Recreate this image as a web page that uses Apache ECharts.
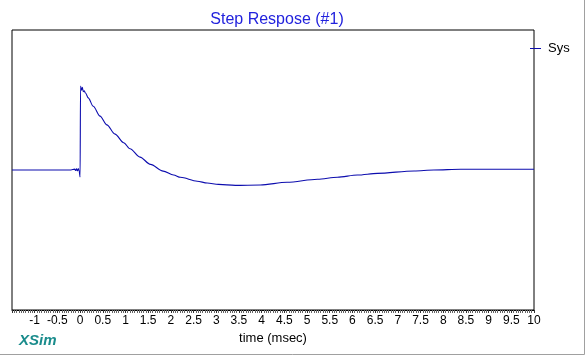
<!DOCTYPE html>
<html>
<head>
<meta charset="utf-8">
<script src="https://cdn.jsdelivr.net/npm/echarts@6/dist/echarts.min.js"></script>
<style>
html,body{margin:0;padding:0;background:#fff;}
#c{width:587px;height:357px;}
</style>
</head>
<body>
<div id="c"></div>
<script>
// time (msec) samples
const timeMs = [-1.5, -0.6, -0.2, -0.12, -0.1, -0.08, -0.06, -0.04, -0.02, 0.0, 0.01, 0.03, 0.05, 0.07, 0.09, 0.12, 0.18, 0.29, 0.44, 0.59, 0.77, 0.96, 1.1, 1.32, 1.55, 1.83, 2.06, 2.21, 2.58, 2.8, 3.05, 3.42, 3.97, 4.56, 5.23, 5.67, 6.11, 6.55, 7.36, 7.79, 8.39, 10.0];
// response value (Sys)
const sysValues = [0.0, 0.0, 0.0, 0.006, -0.004, 0.008, -0.006, 0.01, -0.01, -0.05, 0.6, 0.57, 0.59, 0.56, 0.565, 0.55, 0.515, 0.455, 0.385, 0.322, 0.256, 0.195, 0.152, 0.092, 0.040, -0.008, -0.036, -0.052, -0.080, -0.093, -0.103, -0.110, -0.107, -0.088, -0.066, -0.052, -0.036, -0.024, -0.007, 0.0, 0.005, 0.005];
const xTickLabels = ['-1.5','-1','-0.5','0','0.5','1','1.5','2','2.5','3','3.5','4','4.5','5','5.5','6','6.5','7','7.5','8','8.5','9','9.5','10'];
const seriesName = 'Sys';

const chart = echarts.init(document.getElementById('c'), null, {renderer: 'canvas'});
const pts = timeMs.map((t, i) => [t, sysValues[i]]);

chart.setOption({
  animation: false,
  backgroundColor: '#ffffff',
  title: {
    text: 'Step Respose (#1)',
    left: 272, top: 7, textAlign: 'center',
    textStyle: {color: '#2222dd', fontFamily: 'Liberation Sans, Arial', fontSize: 16, fontWeight: 'normal'}
  },
  legend: {
    data: [seriesName],
    left: 525, top: 37,
    icon: 'rect', itemWidth: 11, itemHeight: 1, itemGap: 4,
    textStyle: {color: '#000', fontFamily: 'Liberation Sans, Arial', fontSize: 13, padding: [0,0,0,2]}
  },
  grid: {left: 12, right: 53, top: 30, bottom: 47, show: true, borderColor: '#000', borderWidth: 1, backgroundColor: '#fff'},
  xAxis: {
    type: 'value', min: -1.5, max: 10, interval: 0.5,
    position: 'bottom',
    name: 'time (msec)', nameLocation: 'middle', nameGap: 19,
    nameTextStyle: {color: '#000', fontFamily: 'Liberation Sans, Arial', fontSize: 13},
    axisLine: {show: true, onZero: false, lineStyle: {color: '#000', width: 1}},
    axisTick: {show: true, inside: false, length: 3, lineStyle: {color: '#333'}},
    minorTick: {show: true, splitNumber: 10, length: 3, lineStyle: {color: '#666'}},
    splitLine: {show: false},
    axisLabel: {
      color: '#000', fontFamily: 'Liberation Sans, Arial', fontSize: 12, margin: 5,
      showMinLabel: false,
      formatter: v => { const i = Math.round((v + 1.5) / 0.5); return i === 0 ? '' : xTickLabels[i]; }
    }
  },
  yAxis: {
    type: 'value', min: -1, max: 1,
    axisLine: {show: false}, axisTick: {show: false}, axisLabel: {show: false}, splitLine: {show: false}
  },
  series: [{
    name: seriesName, type: 'line', data: pts, showSymbol: false, symbol: 'none',
    smooth: 0.3, smoothMonotone: 'x',
    lineStyle: {color: '#0c0cae', width: 1.1},
    itemStyle: {color: '#0c0cae'}
  }],
  graphic: [
    {type: 'text', left: 19, top: 333, style: {text: 'XSim', fill: '#1a8c8c', font: 'italic bold 15px "Liberation Sans", Arial'}},
    {type: 'line', shape: {x1: 584.5, y1: 0, x2: 584.5, y2: 354.5}, style: {stroke: '#a0a0a0', lineWidth: 1}},
    {type: 'line', shape: {x1: 0, y1: 354.5, x2: 584.5, y2: 354.5}, style: {stroke: '#a0a0a0', lineWidth: 1}}
  ]
});
</script>
</body>
</html>
